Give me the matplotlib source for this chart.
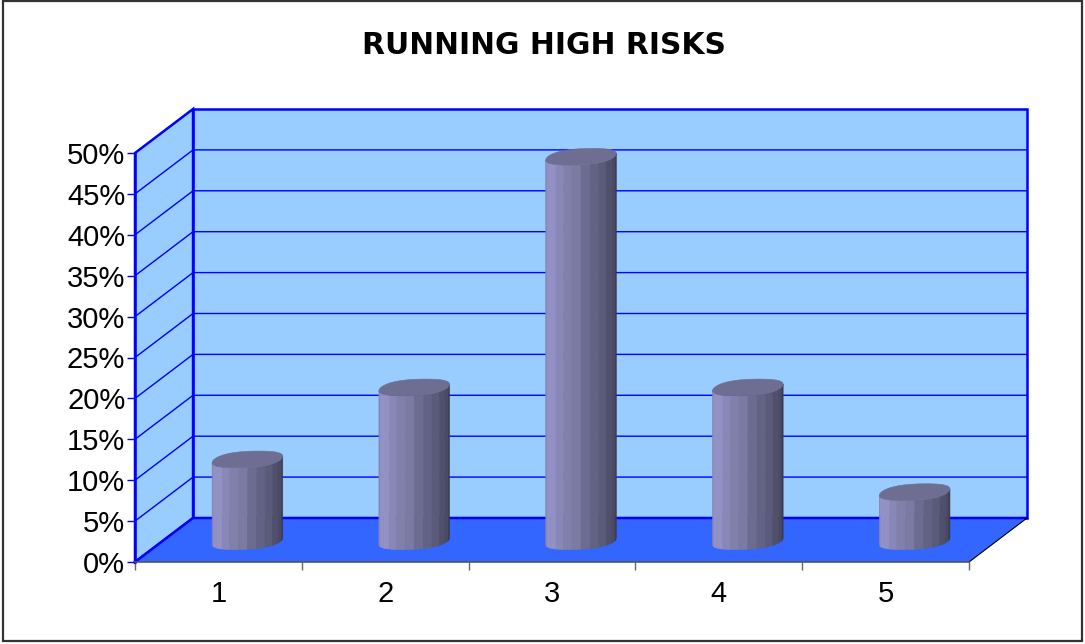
import numpy as np
import matplotlib
matplotlib.use("Agg")
import matplotlib.pyplot as plt
from matplotlib.patches import Polygon, Rectangle

# chart values
categories = [1, 2, 3, 4, 5]
risk_pct = [10, 18.8, 47, 18.8, 6]
y_ticks = [0, 5, 10, 15, 20, 25, 30, 35, 40, 45, 50]

# oblique depth of the box, in data units
depth_x = 0.348
depth_y = 5.38

wall_blue = "#99ccff"
floor_blue = "#3366ff"
line_blue = "#0000ff"
cap_color = "#6e6e92"
side_colors = ["#8583b0", "#9390c4", "#9390c4", "#8987b8", "#8180aa", "#7a7aa2",
               "#6c6c90", "#626284", "#5a5a7a", "#50506c", "#4a4a64", "#3a3a4e"]


def ring(t, cx, cy):
    # outline of the cylinder section, slightly squared off like a coarse tessellation
    a = 0.2
    bx = 0.2 * depth_x
    by = 0.2 * depth_y
    x = cx + a * np.cos(t) + bx * np.sin(t)
    y = cy + by * (np.sin(t) + 0.05 * np.sin(3 * t))
    return x, y


def draw_cylinder(ax, pos, value):
    # section lies on the floor plane, halfway back in the box
    cx = pos + depth_x / 2
    cy = depth_y / 2 - 0.15
    start = np.pi + np.arctan2(0.2 * depth_x, 0.2)
    edges = np.linspace(start, start + np.pi, len(side_colors) + 1)
    for i, color in enumerate(side_colors):
        t = np.linspace(edges[i], edges[i + 1], 6)
        x, y = ring(t, cx, cy)
        pts = list(zip(x, y)) + list(zip(x[::-1], y[::-1] + value))
        ax.add_patch(Polygon(pts, closed=True, fc=color, ec=color, lw=0.4, zorder=5, clip_on=False))
    x, y = ring(np.linspace(0, 2 * np.pi, 80), cx, cy + value)
    ax.add_patch(Polygon(list(zip(x, y)), closed=True, fc=cap_color, ec=cap_color, lw=0.4,
                         zorder=6, clip_on=False))


fig = plt.figure(figsize=(10.85, 6.44), dpi=100)
fig.patch.set_facecolor("white")
fig.add_artist(Rectangle((0.0025, 0.004), 0.995, 0.994, transform=fig.transFigure,
                         fc="none", ec="#333333", lw=1.6))

ax = fig.add_axes([135 / 1085, 1 - 562 / 644, 834 / 1085, 409 / 644])
ax.set_xlim(0.5, 5.5)
ax.set_ylim(0, 50)
ax.patch.set_alpha(0)

x0, x1 = ax.get_xlim()
y0, y1 = ax.get_ylim()

# walls and floor
ax.add_patch(Polygon([(x0 + depth_x, y0 + depth_y), (x1 + depth_x, y0 + depth_y),
                      (x1 + depth_x, y1 + depth_y), (x0 + depth_x, y1 + depth_y)],
                     fc=wall_blue, ec=line_blue, lw=1.8, clip_on=False, zorder=1))
ax.add_patch(Polygon([(x0, y0), (x0 + depth_x, y0 + depth_y), (x0 + depth_x, y1 + depth_y), (x0, y1)],
                     fc=wall_blue, ec=line_blue, lw=1.8, clip_on=False, zorder=1))
ax.add_patch(Polygon([(x0, y0), (x1, y0), (x1 + depth_x, y0 + depth_y), (x0 + depth_x, y0 + depth_y)],
                     fc=floor_blue, ec="none", clip_on=False, zorder=2))
ax.plot([x0, x0 + depth_x, x1 + depth_x], [y0, y0 + depth_y, y0 + depth_y],
        color=line_blue, lw=1.8, clip_on=False, zorder=3)
ax.plot([x1, x1 + depth_x], [y0, y0 + depth_y], color="black", lw=0.8, clip_on=False, zorder=3)

# gridlines run across the left wall and then along the back
for v in y_ticks[1:-1]:
    ax.plot([x0, x0 + depth_x, x1 + depth_x], [v, v + depth_y, v + depth_y],
            color=line_blue, lw=1.0, clip_on=False, zorder=2)

for pos, value in zip(categories, risk_pct):
    draw_cylinder(ax, pos, value)

ax.set_xticks(np.arange(0.5, 6.0, 1.0))
ax.set_xticks(categories, minor=True)
ax.set_xticklabels([])
ax.set_xticklabels([str(c) for c in categories], minor=True, family="Liberation Sans", fontsize=21)
ax.tick_params(axis="x", which="major", length=6, width=1, color="#666666")
ax.tick_params(axis="x", which="minor", length=0, pad=13)
ax.set_yticks(y_ticks)
ax.set_yticklabels([f"{v}%" for v in y_ticks], family="Liberation Sans", fontsize=21)
ax.tick_params(axis="y", length=6, width=1, color=line_blue, pad=1)

for side in ["top", "right"]:
    ax.spines[side].set_visible(False)
ax.spines["left"].set_color(line_blue)
ax.spines["left"].set_linewidth(1.8)
ax.spines["left"].set_zorder(4)
ax.spines["bottom"].set_color("#555555")
ax.spines["bottom"].set_linewidth(1.2)
ax.spines["bottom"].set_zorder(4)

fig.text(543.5 / 1085, 1 - 45 / 644, "RUNNING HIGH RISKS", ha="center", va="center",
         family="DejaVu Sans", weight="bold", fontsize=21.4)

fig.savefig("out.png", dpi=100)
